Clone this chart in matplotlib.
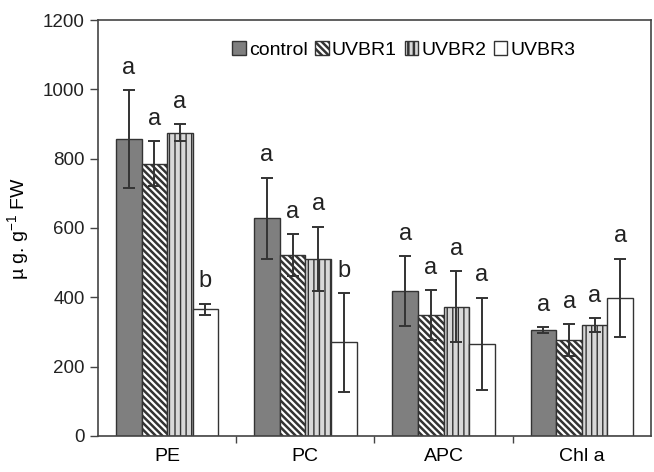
import numpy as np
import matplotlib
matplotlib.use('Agg')
import matplotlib.pyplot as plt

plt.rcParams['font.family'] = ['Liberation Sans', 'DejaVu Sans']
plt.rcParams['hatch.linewidth'] = 1.8

# data
categories = ['PE', 'PC', 'APC', 'Chl a']
treatments = ['control', 'UVBR1', 'UVBR2', 'UVBR3']
means = [
    [856, 628, 417, 306],   # control
    [785, 522, 349, 277],   # UVBR1
    [875, 511, 373, 320],   # UVBR2
    [365, 270, 265, 399],   # UVBR3
]
errors = [
    [142, 117, 101, 8],
    [65, 60, 72, 45],
    [24, 93, 102, 19],
    [17, 142, 133, 113],
]
letters = [
    ['a', 'a', 'a', 'a'],
    ['a', 'a', 'a', 'a'],
    ['a', 'a', 'a', 'a'],
    ['b', 'b', 'a', 'a'],
]

faces = ['#7f7f7f', 'white', '#d8d8d8', 'white']
hatches = [None, '\\\\\\\\\\', '|||', None]
edge = '#333333'

fig = plt.figure(figsize=(6.54, 4.72), dpi=100)
ax = fig.add_axes([0.1498, 0.0763, 0.8456, 0.8813])

x = np.arange(len(categories))
w = 0.185
for i, t in enumerate(treatments):
    pos = x + (i - 1.5) * w
    bars = ax.bar(pos, means[i], w, color=faces[i], edgecolor=edge, linewidth=1.0,
                  hatch=hatches[i], label=t, zorder=2)
    if i == 2:
        for b in bars:
            if hasattr(b, 'set_hatch_linewidth'):
                b.set_hatch_linewidth(1.0)
    ax.errorbar(pos, means[i], yerr=errors[i], fmt='none', ecolor='#333333',
                elinewidth=1.4, capsize=4, capthick=1.4, zorder=3)
    for j in range(len(categories)):
        ax.text(pos[j], means[i][j] + errors[i][j] + 65, letters[i][j],
                ha='center', va='center', fontsize=17, color='#222222')

ax.set_xlim(-0.5, len(categories) - 0.5)
ax.set_ylim(0, 1200)
ax.set_yticks(range(0, 1201, 200))
ax.set_xticks(x[:-1] + 0.5)
ax.set_xticklabels([])
ax.set_xticks(x, minor=True)
ax.set_xticklabels(categories, minor=True, fontsize=14)
ax.tick_params(axis='x', which='minor', length=0, pad=9)
ax.tick_params(axis='x', which='major', length=5, width=1, color='#444444')
ax.tick_params(axis='y', length=6, width=1, color='#444444', labelsize=13.5,
               labelcolor='#222222')
for s in ax.spines.values():
    s.set_color('#444444')
    s.set_linewidth(1.2)

ax.set_ylabel('µ g. g$^{\\mathregular{-1}}$ FW', fontsize=14, labelpad=8)

leg = ax.legend(loc='center', bbox_to_anchor=(0.553, 0.928), ncol=4, frameon=False,
                fontsize=14, handlelength=0.7, handleheight=0.7, handletextpad=0.15,
                columnspacing=0.4, borderaxespad=0)

fig.savefig('out.png', dpi=100)
